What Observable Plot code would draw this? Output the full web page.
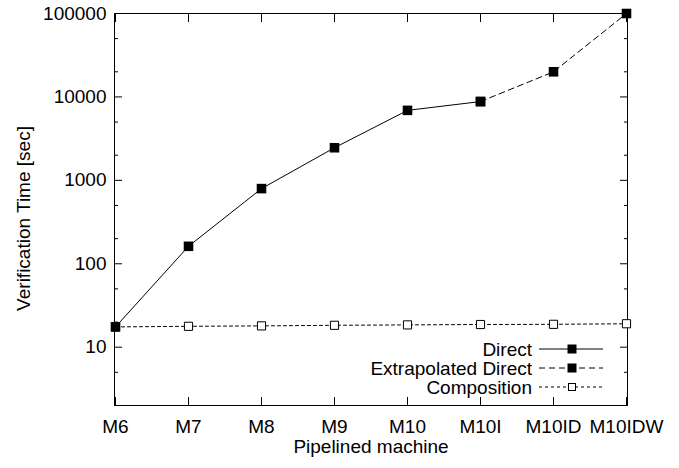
<!DOCTYPE html>
<html><head><meta charset="utf-8">
<script src="https://cdn.jsdelivr.net/npm/d3@7"></script>
<script src="https://cdn.jsdelivr.net/npm/@observablehq/plot@0.6"></script>
<style>body{margin:0;background:#fff;} svg{font-family:"Liberation Sans",Arial,sans-serif;}</style>
</head><body><div id="chart"></div>
<script>
const machines = ["M6","M7","M8","M9","M10","M10I","M10ID","M10IDW"];
const directMachines = ["M6","M7","M8","M9","M10","M10I"];
const directValues = [17.5, 162, 796, 2460, 6900, 8800];
const extrapMachines = ["M10I","M10ID","M10IDW"];
const extrapValues = [8800, 20000, 100000];
const compositionValues = [17.5, 17.8, 18.0, 18.3, 18.5, 18.7, 18.8, 19.1];
const yMajorTicks = [10, 100, 1000, 10000, 100000];
const yMinorTicks = [5, 20, 50, 200, 500, 2000, 5000, 20000, 50000];
const legendLabels = ["Direct", "Extrapolated Direct", "Composition"];
const xTitle = "Pipelined machine";
const yTitle = "Verification Time [sec]";

const direct = directMachines.map((m, i) => ({m, v: directValues[i]}));
const extrap = extrapMachines.map((m, i) => ({m, v: extrapValues[i]}));
const composition = machines.map((m, i) => ({m, v: compositionValues[i]}));

const font = "Liberation Sans, Arial, sans-serif";
const fs = 19;
const plot = Plot.plot({
  width: 679, height: 468,
  marginLeft: 114, marginRight: 52, marginTop: 13, marginBottom: 63,
  style: {fontFamily: font, fontSize: fs + "px", background: "white", color: "black", overflow: "visible"},
  x: {type: "point", domain: machines, padding: 0, label: null},
  y: {type: "log", domain: [2, 100000], label: null},
  marks: [
    Plot.frame({stroke: "black", strokeWidth: 1}),
    Plot.axisX({anchor: "bottom", tickSize: 0, tickPadding: 14, label: null, fontSize: fs}),
    Plot.axisX({anchor: "bottom", tickSize: -8, fill: "none", label: null}),
    Plot.axisX({anchor: "top", tickSize: -8, fill: "none", label: null}),
    Plot.axisY({anchor: "left", ticks: yMajorTicks, tickFormat: d => String(d), tickSize: 0, tickPadding: 8, label: null, fontSize: fs}),
    Plot.axisY({anchor: "left", ticks: yMajorTicks, tickSize: -8, fill: "none", label: null}),
    Plot.axisY({anchor: "right", ticks: yMajorTicks, tickSize: -8, fill: "none", label: null}),
    Plot.axisY({anchor: "left", ticks: yMinorTicks, tickSize: -4, fill: "none", label: null}),
    Plot.axisY({anchor: "right", ticks: yMinorTicks, tickSize: -4, fill: "none", label: null}),
    Plot.line(composition, {x: "m", y: "v", stroke: "black", strokeWidth: 1, strokeDasharray: "3,3"}),
    Plot.line(direct, {x: "m", y: "v", stroke: "black", strokeWidth: 1}),
    Plot.line(extrap, {x: "m", y: "v", stroke: "black", strokeWidth: 1, strokeDasharray: "6,4"}),
    Plot.dot(composition, {x: "m", y: "v", symbol: "square", r: 4.6, fill: "white", stroke: "black", strokeWidth: 1}),
    Plot.dot(direct, {x: "m", y: "v", symbol: "square", r: 5.4, fill: "black", stroke: "none"}),
    Plot.dot(extrap, {x: "m", y: "v", symbol: "square", r: 5.4, fill: "black", stroke: "none"}),
    Plot.text([xTitle], {frameAnchor: "bottom", dy: 47, fontSize: fs, fill: "black"}),
    Plot.text([yTitle], {frameAnchor: "left", textAnchor: "middle", dx: -91, dy: 9, rotate: -90, fontSize: fs, fill: "black"})
  ]
});

// legend inside the frame, lower right
const svg = d3.select(plot);
const [xr0, xr1] = plot.scale("x").range;
const [yb] = plot.scale("y").range;
const g = svg.append("g").attr("font-family", font).attr("font-size", fs);
const styles = [
  {dash: null, fill: "black", side: 8},
  {dash: "6,4", fill: "black", side: 8},
  {dash: "3,3", fill: "white", side: 7}
];
legendLabels.forEach((label, i) => {
  const y = yb - 56 + i * 19;
  g.append("text").attr("x", xr1 - 95).attr("y", y).attr("dy", "0.35em")
    .attr("text-anchor", "end").attr("fill", "black").text(label);
  const l = g.append("line").attr("x1", xr1 - 88).attr("x2", xr1 - 24)
    .attr("y1", y).attr("y2", y).attr("stroke", "black").attr("stroke-width", 1);
  if (styles[i].dash) l.attr("stroke-dasharray", styles[i].dash);
  const s = styles[i].side;
  g.append("rect").attr("x", xr1 - 55 - s / 2).attr("y", y - s / 2)
    .attr("width", s).attr("height", s).attr("fill", styles[i].fill)
    .attr("stroke", "black").attr("stroke-width", 1);
});

document.getElementById("chart").appendChild(plot);
</script>
</body></html>
